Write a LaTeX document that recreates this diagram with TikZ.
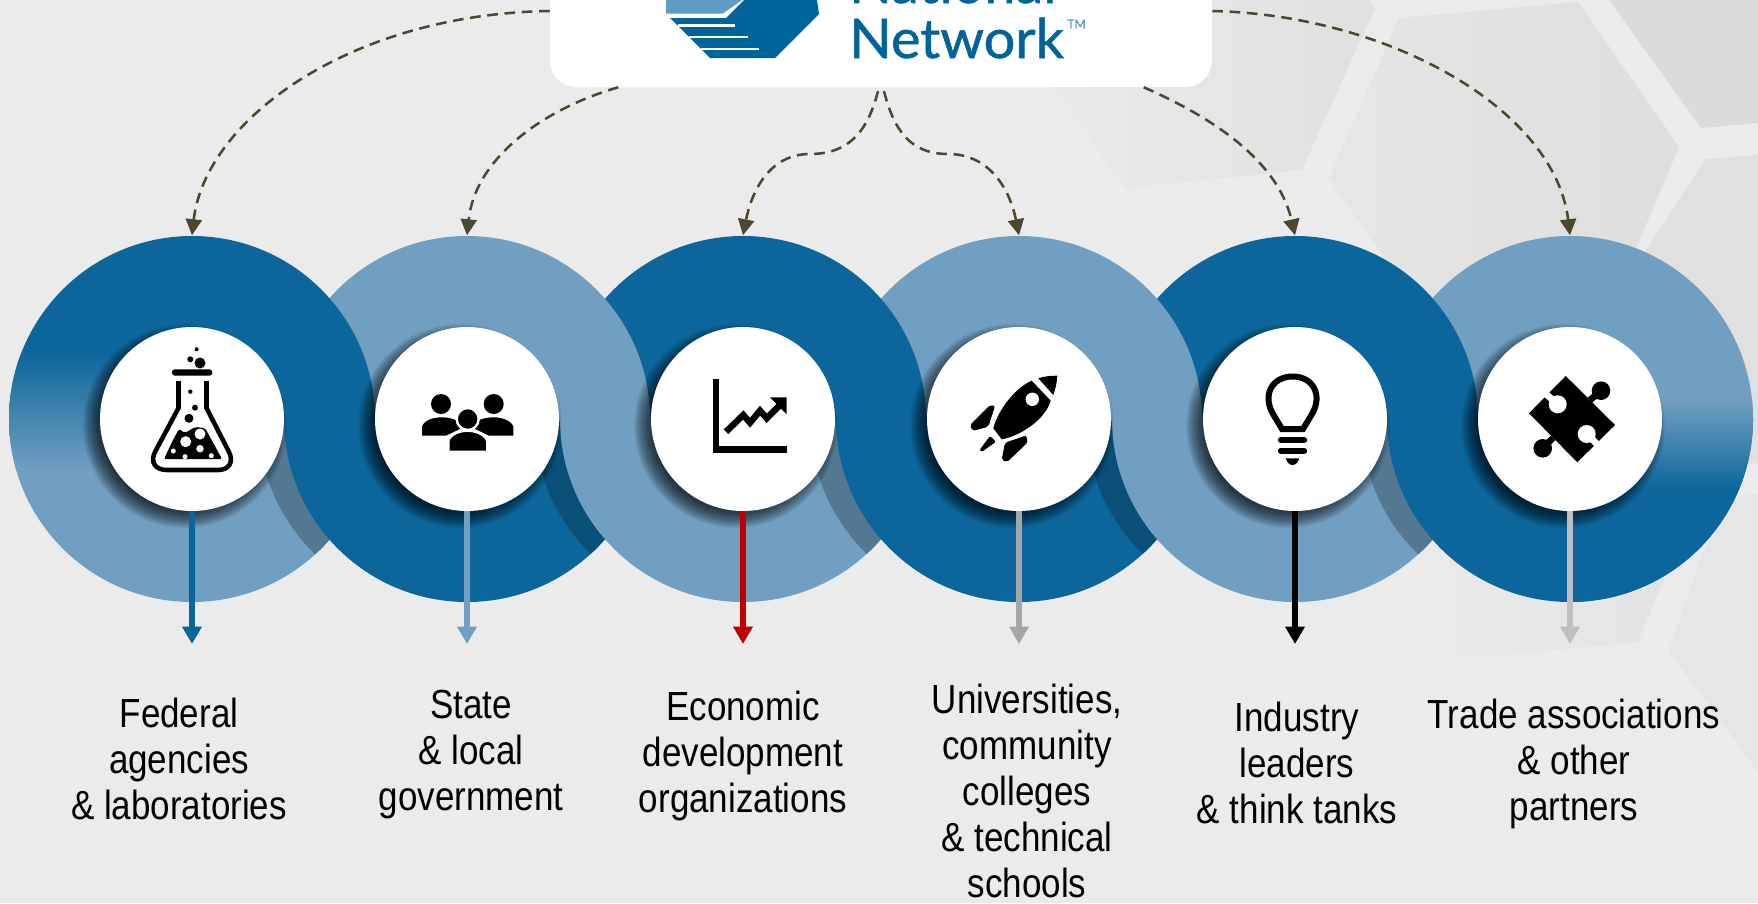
\documentclass[tikz,border=0pt]{standalone}
\usepackage{fontspec}
\usepackage{amsmath}
\usetikzlibrary{arrows.meta}
\setmainfont{Liberation Sans}[FakeStretch=0.86]
\newfontfamily\logofont{Lato}[FakeBold=1,FakeStretch=1.02]

\definecolor{bggrey}{HTML}{EBEBEB}
\definecolor{ringdark}{HTML}{0D669B}
\definecolor{ringlight}{HTML}{719FC1}
\definecolor{cresdark}{HTML}{0A4F78}
\definecolor{creslight}{HTML}{557892}
\definecolor{linkolive}{HTML}{4C4731}
\definecolor{logoblue}{HTML}{00649B}
\definecolor{logolight}{HTML}{5F9CC4}

\newcommand{\faceshadow}[2]{\foreach \r in {84,85,...,102}{\fill[black,opacity=0.05] (#1-7,#2+7) circle[radius=\r];}}

\tikzset{
  hubdisc/.style={circle,minimum size=275.25pt,inner sep=0pt},
  hubface/.style={circle,fill=white,minimum size=138pt,inner sep=0pt},
  linkarrow/.style={draw=linkolive,line width=1.9pt,dash pattern=on 8pt off 5pt,
    -{Triangle[length=12pt,width=12pt,fill=linkolive,sep=0pt]}},
  droparrow/.style={line width=4.1pt,-{Triangle[length=13pt,width=14pt]}},
  grouplabel/.style={align=center,inner sep=0pt,font=\fontsize{30.5}{34.5}\selectfont},
  logotext/.style={text=logoblue,inner sep=0pt,anchor=base west,font=\logofont\fontsize{41}{41}\selectfont}
}

\begin{document}
\begin{tikzpicture}[x=0.75pt,y=0.75pt,yscale=-1,xscale=1]
\path[use as bounding box] (0,0) rectangle (1758,903);
\clip (0,0) rectangle (1758,903);

%Shape: Background
\fill[bggrey] (0,0) rectangle (1758,903);
%Shape: Hexagons
\shade[left color=bggrey,right color=black!12] (1370,0) -- (1375,8) -- (1302,170) -- (1126,188) -- (1053,90) -- (1000,0) -- cycle;
\shade[left color=black!10,right color=black!13] (1399,18) -- (1578,2) -- (1679,147) -- (1633,255) -- (1420,310) -- (1329,178) -- cycle;
\fill[black!14] (1609,0) -- (1701,128) -- (1758,123) -- (1758,0) -- cycle;
\fill[black!12] (1706,159) -- (1758,155) -- (1758,463) -- (1650,478) -- (1600,320) -- cycle;
\fill[black!10] (1732,497) -- (1758,494) -- (1758,772) -- (1669,651) -- (1700,560) -- cycle;
\shade[left color=bggrey,right color=black!11] (1401,576) -- (1425,662) -- (1638,642) -- (1672,560) -- (1500,400) -- cycle;

% Lower halves, left to right, each with its crescent
\fill[ringlight] (9,419) arc[start angle=180,end angle=0,radius=183] -- cycle;
\begin{scope}
\clip (9,419) arc[start angle=180,end angle=0,radius=183] -- cycle;
\fill[creslight] (447,419) circle[radius=189];
\end{scope}
\fill[ringdark] (284,419) arc[start angle=180,end angle=0,radius=183] -- cycle;
\begin{scope}
\clip (284,419) arc[start angle=180,end angle=0,radius=183] -- cycle;
\fill[cresdark] (723,419) circle[radius=189];
\end{scope}
\fill[ringlight] (560,419) arc[start angle=180,end angle=0,radius=183] -- cycle;
\begin{scope}
\clip (560,419) arc[start angle=180,end angle=0,radius=183] -- cycle;
\fill[creslight] (999,419) circle[radius=189];
\end{scope}
\fill[ringdark] (836,419) arc[start angle=180,end angle=0,radius=183] -- cycle;
\begin{scope}
\clip (836,419) arc[start angle=180,end angle=0,radius=183] -- cycle;
\fill[cresdark] (1275,419) circle[radius=189];
\end{scope}
\fill[ringlight] (1112,419) arc[start angle=180,end angle=0,radius=183] -- cycle;
\begin{scope}
\clip (1112,419) arc[start angle=180,end angle=0,radius=183] -- cycle;
\fill[creslight] (1550,419) circle[radius=189];
\end{scope}
\fill[ringdark] (1387,419) arc[start angle=180,end angle=0,radius=183] -- cycle;

% Upper halves, right to left
\fill[ringlight] (1387,419) arc[start angle=180,end angle=360,radius=183] -- cycle;
\fill[ringdark] (1112,419) arc[start angle=180,end angle=360,radius=183] -- cycle;
\fill[ringlight] (836,419) arc[start angle=180,end angle=360,radius=183] -- cycle;
\fill[ringdark] (560,419) arc[start angle=180,end angle=360,radius=183] -- cycle;
\fill[ringlight] (284,419) arc[start angle=180,end angle=360,radius=183] -- cycle;
\fill[ringdark] (9,419) arc[start angle=180,end angle=360,radius=183] -- cycle;

% Bands over the seam between the faces
\fill[ringdark] (284,417) rectangle (375,421);
\fill[ringlight] (559,417) rectangle (651,421);
\fill[ringdark] (835,417) rectangle (927,421);
\fill[ringlight] (1111,417) rectangle (1203,421);
\fill[ringdark] (1387,417) rectangle (1478,421);

% Fade on the left of the first disc
\begin{scope}
\clip (192,419) circle[radius=183];
\shade[top color=ringdark,bottom color=ringlight] (9,353) rectangle (192,470);
\end{scope}
% Fade on the right of the last disc
\begin{scope}
\clip (1570,419) circle[radius=183];
\fill[ringdark] (1570,489) rectangle (1753,603);
\shade[top color=ringlight,bottom color=ringdark] (1570,400) rectangle (1753,490);
\end{scope}

% Disc nodes
\node[hubdisc] (flaskdisc) at (192,419) {};
\node[hubdisc] (peopledisc) at (467,419) {};
\node[hubdisc] (chartdisc) at (743,419) {};
\node[hubdisc] (rocketdisc) at (1019,419) {};
\node[hubdisc] (bulbdisc) at (1295,419) {};
\node[hubdisc] (puzzledisc) at (1570,419) {};

% Soft shadows under the faces
\faceshadow{192}{419}
\faceshadow{467}{419}
\faceshadow{743}{419}
\faceshadow{1019}{419}
\faceshadow{1295}{419}
\faceshadow{1570}{419}

% White faces
\node[hubface] (flaskface) at (192,419) {};
\node[hubface] (peopleface) at (467,419) {};
\node[hubface] (chartface) at (743,419) {};
\node[hubface] (rocketface) at (1019,419) {};
\node[hubface] (bulbface) at (1295,419) {};
\node[hubface] (puzzleface) at (1570,419) {};

% Arrow ends
\coordinate (flaskend) at (192,644);
\coordinate (peopleend) at (467,644);
\coordinate (chartend) at (743,644);
\coordinate (rocketend) at (1019,644);
\coordinate (bulbend) at (1295,644);
\coordinate (puzzleend) at (1570,644);

%Straight Lines
\draw[droparrow,ringdark] (flaskface) -- (flaskend);
\draw[droparrow,ringlight] (peopleface) -- (peopleend);
\draw[droparrow,red!75!black] (chartface) -- (chartend);
\draw[droparrow,black!35] (rocketface) -- (rocketend);
\draw[droparrow,black] (bulbface) -- (bulbend);
\draw[droparrow,black!25] (puzzleface) -- (puzzleend);

%Shape: Flask icon
\fill (196.7,349.3) circle[radius=2];
\fill (190.3,359.3) circle[radius=3];
\fill (200,363) circle[radius=5.5];
\fill[rounded corners=2.2pt] (172,369.3) rectangle (212.3,375.7);
\draw[line width=3.4pt] (178.5,381) -- (178.5,408) -- (155,452) .. controls (150,462) and (155,470) .. (167,470) -- (218,470) .. controls (229,470) and (234,462) .. (229,452) -- (206.5,408) -- (206.5,381);
\fill (190.3,391.7) circle[radius=2.2];
\fill (195,407.7) circle[radius=3];
\fill (189,418.3) circle[radius=4.5];
\fill[rounded corners=1.5pt] (164,459) -- (173,440) -- (179,429) -- (185,433) -- (195,427) -- (205,428) -- (222,459) -- cycle;
\fill[white] (185.7,441.7) circle[radius=5.5];
\fill[white] (200,434) circle[radius=5.5];
\fill[white] (200,448.7) circle[radius=3.7];
\fill[white] (173.3,451) circle[radius=2.5];
\fill[white] (185,456.7) circle[radius=2.5];
\fill[white] (211.3,455.7) circle[radius=2.5];

%Shape: People icon
\fill (441,404) circle[radius=10];
\fill (493.7,404) circle[radius=10];
\fill (422,435.7) -- (422,426.7) .. controls (424,420) and (434,417.3) .. (441.7,417.3) .. controls (450,417.3) and (460,420) .. (464,427) -- (446,435.7) -- cycle;
\fill (513.3,435.7) -- (513.3,426.7) .. controls (511,420) and (501,417.3) .. (493.7,417.3) .. controls (485,417.3) and (475,420) .. (471,427) -- (489,435.7) -- cycle;
\draw[white,line width=1.8pt,fill=black] (467.7,419) circle[radius=11];
\draw[white,line width=1.8pt,fill=black] (448.3,451.7) -- (448.3,441) .. controls (450,434) and (460,430.7) .. (467.7,430.7) .. controls (475,430.7) and (485,434) .. (487.3,441) -- (487.3,451.7) -- cycle;

%Shape: Chart icon
\fill (712.7,379) rectangle (719,452.7);
\fill (712.7,446) rectangle (786.7,452.7);
\draw[line width=4.8pt] (726,431.7) -- (743.3,415) -- (750,422.7) -- (760,410.7) -- (766.7,418.3) -- (780,405);
\fill (770,397.3) -- (786.7,397.3) -- (786.7,414.3) -- cycle;

%Shape: Rocket icon
\fill (1038.3,378.3) .. controls (1045,376) and (1052,375.7) .. (1057.3,375.7) .. controls (1057,383) and (1055,390) .. (1053.3,395) -- cycle;
\fill (1031.7,380.7) .. controls (1015,388) and (998,410) .. (993.3,428.3) -- (1001.7,439.3) .. controls (1020,436) and (1045,420) .. (1050.7,400.7) -- cycle;
\fill[white] (1032.3,399.3) circle[radius=6.7];
\fill[rounded corners=1.5pt] (995,406) -- (990,405) -- (970,425) -- (972.7,431) -- (988.3,426.7) -- cycle;
\fill[rounded corners=1.5pt] (1026,435.5) -- (1028,442) -- (1007.3,462) -- (1001.7,460) -- (1005,442.7) -- cycle;
\fill[rounded corners=1pt] (990,436) -- (996,441.7) -- (981.7,452) -- (979.5,450) -- cycle;

%Shape: Bulb icon
\draw[line width=4.5pt] (1282,429) -- (1273,414) .. controls (1262,395) and (1272,376.5) .. (1292.7,376.5) .. controls (1313,376.5) and (1323,395) .. (1312,414) -- (1303,429) -- cycle;
\draw[line width=4.8pt,line cap=round] (1281,440) -- (1304,440);
\draw[line width=4.8pt,line cap=round] (1281,450.7) -- (1304,450.7);
\fill (1285.7,458.3) -- (1299.3,458.3) .. controls (1298,463) and (1295,465) .. (1292.5,465) .. controls (1290,465) and (1287,463) .. (1285.7,458.3) -- cycle;

%Shape: Puzzle icon
\fill (1529,413.3) -- (1565.7,376) -- (1615,425) -- (1577.3,462.3) -- cycle;
\fill (1601,390.7) circle[radius=9.3];
\draw[line width=5pt] (1590,400) -- (1601,391);
\fill (1542.7,448.3) circle[radius=9.3];
\draw[line width=5pt] (1553,438) -- (1542.7,448.3);
\fill[white] (1557.7,404.3) circle[radius=9];
\draw[white,line width=5pt] (1546,394) -- (1557.7,404.3);
\fill[white] (1586.7,434) circle[radius=9];
\draw[white,line width=5pt] (1598,445) -- (1586.7,434);

%Curves to the discs
\node[fill=white,rounded corners=20pt,minimum width=496.5pt,minimum height=114pt,inner sep=0pt] (logobox) at (881,11) {};
\draw[linkarrow] (logobox.west) .. controls (350,14) and (205,120) .. (flaskdisc.north);
\draw[linkarrow] ([xshift=-197pt]logobox.south) .. controls (540,110) and (475,160) .. (peopledisc.north);
\draw[linkarrow,shorten <=3pt] ([xshift=-1.5pt]logobox.south) .. controls (868,130) and (850,154) .. (810,154) .. controls (770,154) and (752,190) .. (chartdisc.north);
\draw[linkarrow,shorten <=3pt] ([xshift=1.5pt]logobox.south) .. controls (894,130) and (910,154) .. (948,154) .. controls (990,154) and (1010,190) .. (rocketdisc.north);
\draw[linkarrow] ([xshift=197pt]logobox.south) .. controls (1230,125) and (1280,170) .. (bulbdisc.north);
\draw[linkarrow] (logobox.east) .. controls (1390,15) and (1555,110) .. (puzzledisc.north);

%Shape: Logo mark
\fill[logolight] (666,0) -- (666,13.5) -- (723,13.5) -- (742,0) -- cycle;
\fill[logoblue] (670,18) -- (726,18) -- (744,0) -- (817,0) -- (819,14) -- (775,58) -- (710,58) -- cycle;
\draw[white,line width=2pt] (678,25.5) -- (735,25.5);
\draw[white,line width=2pt] (689,37) -- (748,37);
\draw[white,line width=2pt] (701,49) -- (759,49);

% Text Node
\node[logotext] (nationalword) at (849,3) {National};
% Text Node
\node[logotext] (networkword) at (849,58) {Network};
% Text Node
\node[text=logolight,inner sep=0pt,anchor=west,font=\logofont\fontsize{9}{9}\selectfont] (tmmark) at (1067,24) {TM};

% Text Node
\node[grouplabel] (federallabel) at (179,759) {Federal\\agencies\\\& laboratories};
% Text Node
\node[grouplabel] (statelabel) at (471,755) {State\\\& local\\government};
% Text Node
\node[grouplabel] (econlabel) at (743,756) {Economic\\development\\organizations};
% Text Node
\node[grouplabel] (unilabel) at (1027,791) {Universities,\\community\\colleges\\\& technical\\schools};
% Text Node
\node[grouplabel] (industrylabel) at (1297,763) {Industry\\leaders\\\& think tanks};
% Text Node
\node[grouplabel] (tradelabel) at (1574,764) {Trade associations\\\& other\\partners};

\end{tikzpicture}
\end{document}
